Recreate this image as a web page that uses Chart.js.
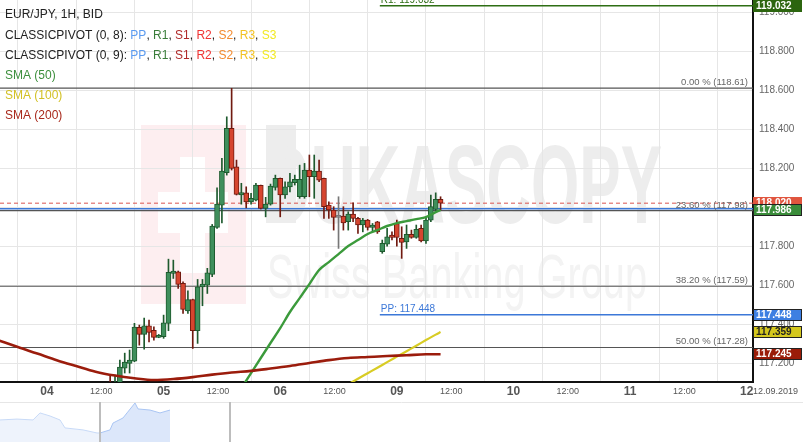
<!DOCTYPE html>
<html>
<head>
<meta charset="utf-8">
<script src="https://cdn.jsdelivr.net/npm/chart.js@4.4.1/dist/chart.umd.min.js"></script>
<style>
  html, body { margin: 0; padding: 0; background: #fff; }
  #wrap { position: relative; width: 803px; height: 442px; overflow: hidden; }
  #main { position: absolute; left: 0; top: 0; }
  #nav { position: absolute; left: 0; top: 402px; }
</style>
</head>
<body>
<div id="wrap">
  <canvas id="main" width="803" height="442"></canvas>
  <canvas id="nav" width="803" height="40"></canvas>
</div>
<script>
// hourly candles, hour 0 = 04 00:00 (weekend squeezed out)
const firstHour = 13;
const opens  = [117.100,117.060,117.070,117.174,117.198,117.210,117.383,117.347,117.391,117.368,117.332,117.335,117.404,117.660,117.668,117.609,117.468,117.526,117.366,117.591,117.600,117.655,117.896,118.010,118.176,118.404,118.207,118.063,118.073,118.027,118.036,118.111,117.993,118.015,118.101,118.147,118.062,118.104,118.125,118.053,118.053,118.190,118.156,118.185,118.147,118.010,117.985,117.947,117.954,117.925,117.964,117.942,117.908,117.933,117.896,117.925,117.771,117.810,117.856,117.916,117.840,117.822,117.860,117.845,117.891,117.827,117.933,117.988,118.040];
const highs  = [117.138,117.138,117.215,117.251,117.267,117.404,117.395,117.431,117.421,117.386,117.347,117.446,117.733,117.728,117.672,117.617,117.571,117.528,117.629,117.629,117.686,117.911,118.099,118.250,118.463,118.609,118.241,118.122,118.104,118.070,118.122,118.113,118.050,118.118,118.164,118.149,118.130,118.173,118.164,118.215,118.224,118.267,118.267,118.241,118.149,118.027,118.002,118.053,118.002,117.976,118.022,117.947,117.942,117.937,117.916,117.927,117.831,117.891,117.873,117.933,117.899,117.908,117.882,117.908,117.908,117.942,118.062,118.073,118.053];
const lows   = [117.020,117.030,117.040,117.149,117.149,117.207,117.292,117.272,117.309,117.318,117.330,117.327,117.366,117.634,117.583,117.455,117.455,117.275,117.301,117.494,117.557,117.643,117.891,117.919,118.164,118.190,118.062,118.015,117.996,118.015,118.032,117.990,117.950,118.010,118.087,117.950,118.045,118.078,118.113,118.045,118.045,118.053,118.045,118.130,117.942,117.942,117.882,117.788,117.882,117.882,117.925,117.865,117.873,117.882,117.873,117.865,117.763,117.800,117.831,117.800,117.737,117.788,117.840,117.840,117.822,117.814,117.925,117.976,117.985];
const closes = [117.060,117.090,117.179,117.205,117.215,117.385,117.347,117.391,117.357,117.332,117.342,117.407,117.665,117.672,117.604,117.475,117.526,117.366,117.591,117.605,117.663,117.903,118.015,118.185,118.404,118.198,118.065,118.075,118.027,118.045,118.113,117.993,118.015,118.108,118.147,118.062,118.104,118.130,118.142,118.142,118.190,118.156,118.185,118.138,118.002,117.985,117.947,117.947,117.919,117.964,117.942,117.908,117.933,117.896,117.908,117.873,117.814,117.848,117.845,117.845,117.819,117.860,117.845,117.886,117.827,117.933,118.002,118.040,118.020];

// moving averages
const sma50Hours  = [38,40,42,44,46,48,50,52,54,56,58,60,62,64,66,68,70,72,74,76,78,80,81];
const sma50       = [117.000,117.072,117.149,117.226,117.303,117.379,117.462,117.533,117.605,117.677,117.718,117.759,117.800,117.831,117.862,117.882,117.903,117.918,117.928,117.938,117.949,117.974,117.986];
const sma100Hours = [62,64,66,68,70,72,74,76,78,80,81];
const sma100      = [117.091,117.120,117.148,117.176,117.205,117.233,117.261,117.289,117.318,117.346,117.359];
const sma200Hours = [-10,-6,-2,2,6,10,14,18,22,26,30,34,38,42,46,50,54,58,62,66,70,74,78,81];
const sma200      = [117.317,117.282,117.249,117.215,117.185,117.156,117.136,117.122,117.113,117.118,117.128,117.141,117.152,117.160,117.172,117.185,117.200,117.215,117.226,117.231,117.236,117.240,117.245,117.245];

// levels
const fibLevels = [118.61, 117.982, 117.594, 117.28];
const fibLabels = ['0.00 % (118.61)', '23.60 % (117.98)', '38.20 % (117.59)', '50.00 % (117.28)'];
const pivotNames  = ['R1', 'PP'];
const pivotLevels = [119.032, 117.448];
const pivotColors = ['#2e6e14', '#3c78d8'];
const pivotStart = 68.5;
const bidPrice = 118.020;
const prevPivot = 117.991;
const tagValues = [119.032, 118.020, 117.986, 117.448, 117.359, 117.245];
const tagFills  = ['#2c650f', '#e0553e', '#3a8c3a', '#3d7fe2', '#d5c81e', '#9a1c08'];
const tagText   = ['#fff', '#fff', '#fff', '#fff', '#222', '#fff'];

// axes
const xMin = -9.67, xMax = 145.3;
const yMin = 117.103, yMax = 119.062;
const xTickHours  = [0, 12, 24, 36, 48, 60, 72, 84, 96, 108, 120, 132, 144];
const xTickLabels = ['04', '12:00', '05', '12:00', '06', '12:00', '09', '12:00', '10', '12:00', '11', '12:00', '12'];
const yTicks = [117.2, 117.4, 117.6, 117.8, 118.0, 118.2, 118.4, 118.6, 118.8, 119.0];

// navigator strip
const navX1 = [0, 17, 33, 40, 50, 60, 65, 83, 97, 100];
const navY1 = [117.67, 117.72, 117.67, 118.06, 117.89, 117.67, 117.23, 117.12, 116.95, 116.95];
const navX2 = [100, 110, 113, 123, 127, 135, 138, 150, 160, 170];
const navY2 = [116.95, 117.12, 117.50, 117.78, 118.06, 118.61, 118.28, 118.22, 118.06, 118.22];
const navHandles = [100, 230];

const FONT = '"Liberation Sans", Arial, sans-serif';

const candleX = opens.map((o, i) => firstHour + i);
const dir = opens.map((o, i) => closes[i] > o ? 1 : (closes[i] < o ? -1 : 0));
const bodyFill = dir.map(d => d > 0 ? '#3f8f5c' : d < 0 ? '#d6452f' : '#888');
const edge = dir.map(d => d > 0 ? '#1e5a2e' : d < 0 ? '#701a10' : '#777');

function hline(level, from, to, color, width, dash) {
  return {
    type: 'line', order: 6,
    data: [{ x: from, y: level }, { x: to, y: level }],
    borderColor: color, borderWidth: width, borderDash: dash || [],
    pointRadius: 0
  };
}
function sma(hours, vals, color, width) {
  return {
    type: 'line', order: 1,
    data: hours.map((h, i) => ({ x: h, y: vals[i] })),
    borderColor: color, borderWidth: width, pointRadius: 0,
    cubicInterpolationMode: 'monotone'
  };
}

const datasets = [];
fibLevels.forEach(l => datasets.push(hline(l, xMin, xMax, '#555', 1.2)));
datasets.push(hline(prevPivot, xMin, xMax, '#3c78d8', 1.5));
datasets.push(hline(bidPrice, xMin, xMax, '#d9534f', 1, [4, 3]));
pivotLevels.forEach((l, i) => datasets.push(hline(l, pivotStart, xMax, pivotColors[i], 1.5)));
datasets.push({
  type: 'bar', order: 3, grouped: false,
  data: candleX.map((x, i) => ({ x: x, y: [lows[i], highs[i]] })),
  backgroundColor: edge, barThickness: 1, minBarLength: 1
});
datasets.push({
  type: 'bar', order: 2, grouped: false,
  data: candleX.map((x, i) => ({ x: x, y: [opens[i], closes[i]] })),
  backgroundColor: bodyFill, borderColor: edge, borderWidth: 1, borderSkipped: false,
  barThickness: 5, minBarLength: 2
});
datasets.push(sma(sma200Hours, sma200, '#9b1c0c', 2.6));
datasets.push(sma(sma100Hours, sma100, '#d8cc24', 2.2));
datasets.push(sma(sma50Hours, sma50, '#3b9a3b', 2.4));

const legendLines = [
  [['EUR/JPY, 1H, BID', '#222']],
  [['CLASSICPIVOT (0, 8): ', '#222'], ['PP', '#5b9bf0'], [', ', '#222'], ['R1', '#3a7d3a'], [', ', '#222'], ['S1', '#b02a2a'], [', ', '#222'], ['R2', '#f03434'], [', ', '#222'], ['S2', '#f28a2e'], [', ', '#222'], ['R3', '#f2c224'], [', ', '#222'], ['S3', '#f2ea22']],
  [['CLASSICPIVOT (0, 9): ', '#222'], ['PP', '#5b9bf0'], [', ', '#222'], ['R1', '#3a7d3a'], [', ', '#222'], ['S1', '#b02a2a'], [', ', '#222'], ['R2', '#f03434'], [', ', '#222'], ['S2', '#f28a2e'], [', ', '#222'], ['R3', '#f2c224'], [', ', '#222'], ['S3', '#f2ea22']],
  [['SMA (50)', '#3d8f3d']],
  [['SMA (100)', '#d2c024']],
  [['SMA (200)', '#a8281a']]
];

const overlay = {
  id: 'overlay',
  beforeDraw(chart) {
    const ctx = chart.ctx, a = chart.chartArea;
    ctx.save();
    ctx.fillStyle = '#fff';
    ctx.fillRect(0, 0, chart.width, chart.height);
    ctx.beginPath();
    ctx.rect(a.left, a.top, a.right - a.left, a.bottom - a.top);
    ctx.clip();
    // watermark
    ctx.fillStyle = '#fdeef0';
    ctx.fillRect(141, 125, 105, 179);
    ctx.fillStyle = '#fff';
    ctx.fillRect(180, 157, 25, 116);
    ctx.fillRect(158, 192, 70, 41);
    ctx.fillStyle = '#ededed';
    ctx.fillRect(266, 125, 30, 98);
    ctx.font = 'bold 112px ' + FONT;
    ctx.textBaseline = 'alphabetic';
    let w = ctx.measureText('DUKASCOPY').width;
    ctx.save();
    ctx.translate(266, 223);
    ctx.scale(396 / w, 1);
    ctx.fillText('DUKASCOPY', 0, 0);
    ctx.restore();
    ctx.fillStyle = '#f3f3f3';
    ctx.font = '63px ' + FONT;
    w = ctx.measureText('Swiss Banking Group').width;
    ctx.translate(267, 298);
    ctx.scale(380 / w, 1);
    ctx.fillText('Swiss Banking Group', 0, 0);
    ctx.restore();
  },
  afterDraw(chart) {
    const ctx = chart.ctx, xs = chart.scales.x, ys = chart.scales.y;
    ctx.save();
    // time axis labels
    ctx.fillStyle = '#555';
    ctx.textBaseline = 'middle';
    ctx.textAlign = 'center';
    xTickHours.forEach((h, i) => {
      const px = xs.getPixelForValue(h);
      if (xTickLabels[i] === '12:00') {
        ctx.font = '9px ' + FONT;
        ctx.fillText(xTickLabels[i], px - 4, 392);
      } else {
        ctx.font = 'bold 12px ' + FONT;
        ctx.fillText(xTickLabels[i], px, 392);
      }
    });
    ctx.font = '9px ' + FONT;
    ctx.textAlign = 'left';
    ctx.fillText('12.09.2019', 753, 392);

    // fibonacci labels
    ctx.font = '9.5px ' + FONT;
    ctx.fillStyle = '#666';
    ctx.textAlign = 'right';
    ctx.textBaseline = 'alphabetic';
    fibLevels.forEach((l, i) => ctx.fillText(fibLabels[i], 748, ys.getPixelForValue(l) - 3));

    // pivot labels
    ctx.font = '10px ' + FONT;
    ctx.textAlign = 'left';
    pivotLevels.forEach((l, i) => {
      ctx.fillStyle = pivotColors[i];
      ctx.fillText(pivotNames[i] + ': ' + l.toFixed(3), xs.getPixelForValue(pivotStart) + 1, ys.getPixelForValue(l) - 2.5);
    });

    // price tags on the right axis
    ctx.font = 'bold 10px ' + FONT;
    ctx.textBaseline = 'middle';
    tagValues.forEach((v, i) => {
      const py = Math.round(ys.getPixelForValue(v));
      ctx.fillStyle = tagFills[i];
      ctx.fillRect(753, py - 6, 49, 12);
      if (i > 1) {
        ctx.strokeStyle = '#222';
        ctx.lineWidth = 1;
        ctx.strokeRect(753.5, py - 5.5, 48, 11);
      }
      ctx.fillStyle = tagText[i];
      ctx.fillText(v.toFixed(3), 756, py + 0.5);
    });

    // legend
    ctx.font = '12px ' + FONT;
    ctx.textBaseline = 'middle';
    legendLines.forEach((parts, row) => {
      let x = 5;
      const y = 15 + row * 20.2;
      parts.forEach(p => {
        ctx.fillStyle = p[1];
        ctx.fillText(p[0], x, y);
        x += ctx.measureText(p[0]).width;
      });
    });
    ctx.restore();
  }
};

new Chart(document.getElementById('main'), {
  type: 'bar',
  data: { datasets: datasets },
  options: {
    responsive: false,
    animation: false,
    layout: { padding: 0 },
    plugins: { legend: { display: false }, tooltip: { enabled: false } },
    scales: {
      x: {
        type: 'linear', min: xMin, max: xMax, offset: false,
        afterBuildTicks: s => { s.ticks = xTickHours.map(v => ({ value: v })); },
        afterFit: s => { s.height = 60; s.paddingLeft = 0; s.paddingRight = 0; },
        grid: { color: '#e6e6e6', drawTicks: false },
        border: { display: true, color: '#111', width: 2 },
        ticks: { display: false }
      },
      y: {
        position: 'right', min: yMin, max: yMax,
        afterBuildTicks: s => { s.ticks = yTicks.map(v => ({ value: v })); },
        afterFit: s => { s.width = 50; s.paddingTop = 0; s.paddingBottom = 0; },
        grid: { color: '#e6e6e6', drawTicks: false },
        border: { display: true, color: '#111', width: 2 },
        ticks: { padding: 6, color: '#666', font: { family: FONT, size: 10 }, callback: v => v.toFixed(3) }
      }
    }
  },
  plugins: [overlay]
});

const navDecor = {
  id: 'navDecor',
  afterDraw(chart) {
    const ctx = chart.ctx, xs = chart.scales.x;
    ctx.save();
    ctx.strokeStyle = '#e6e6e6';
    ctx.lineWidth = 1;
    ctx.beginPath();
    ctx.moveTo(0, 0.5);
    ctx.lineTo(chart.width, 0.5);
    ctx.stroke();
    ctx.strokeStyle = '#bdbdbd';
    ctx.lineWidth = 2;
    navHandles.forEach(h => {
      const px = Math.round(xs.getPixelForValue(h));
      ctx.beginPath();
      ctx.moveTo(px, 0);
      ctx.lineTo(px, chart.height);
      ctx.stroke();
    });
    ctx.restore();
  }
};

new Chart(document.getElementById('nav'), {
  type: 'line',
  data: {
    datasets: [
      { data: navX1.map((x, i) => ({ x: x, y: navY1[i] })), borderColor: '#c8daf7', backgroundColor: '#eef3fc', fill: 'start', borderWidth: 1, pointRadius: 0 },
      { data: navX2.map((x, i) => ({ x: x, y: navY2[i] })), borderColor: '#a9c5f3', backgroundColor: '#dce7fa', fill: 'start', borderWidth: 1, pointRadius: 0 }
    ]
  },
  options: {
    responsive: false,
    animation: false,
    layout: { padding: 0 },
    plugins: { legend: { display: false }, tooltip: { enabled: false } },
    scales: {
      x: { type: 'linear', min: 0, max: 803, display: false },
      y: { min: 116.45, max: 118.665, display: false }
    }
  },
  plugins: [navDecor]
});
</script>
</body>
</html>
